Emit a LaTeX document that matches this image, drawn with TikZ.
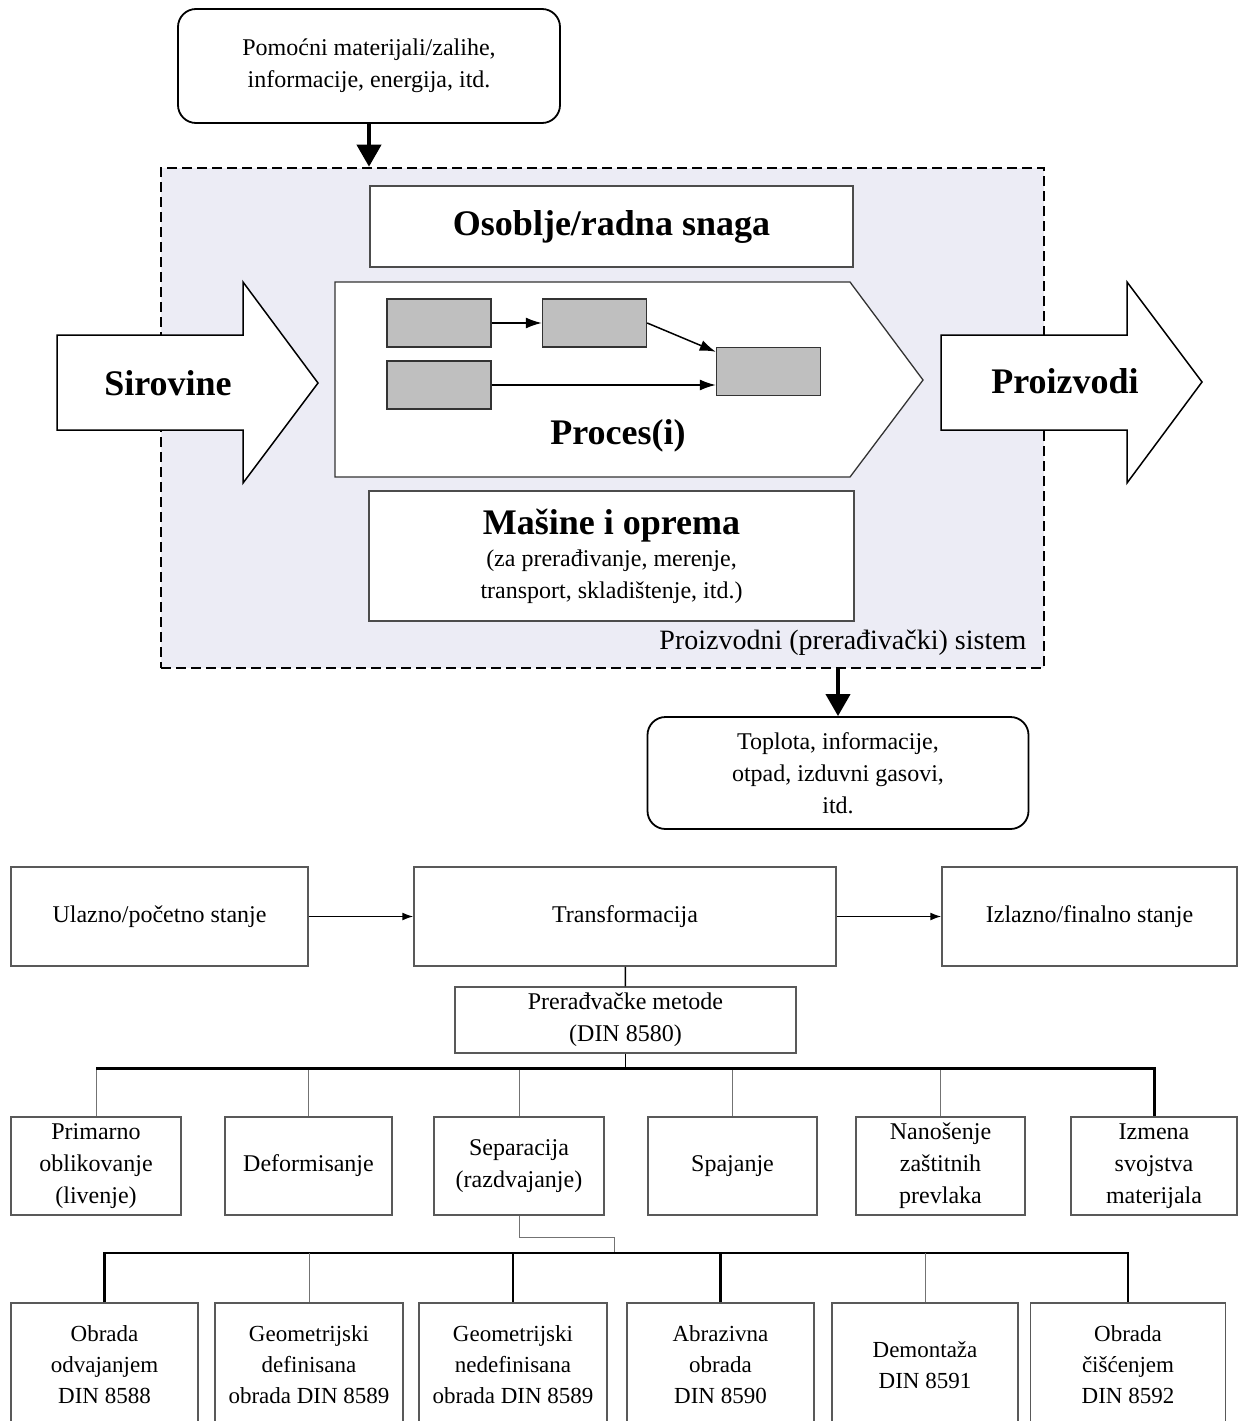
\documentclass[tikz,border=0pt]{standalone}
\usepackage{fontspec}
\setmainfont{Liberation Serif}
\usetikzlibrary{arrows.meta}
\definecolor{sysfill}{RGB}{236,236,245}
\definecolor{unitgray}{RGB}{191,191,191}

\begin{document}
\begin{tikzpicture}[x=1pt, y=-1pt,
        txt/.style={font=\fontsize{24}{32}\selectfont, align=center},
        big/.style={font=\fontsize{36}{40}\selectfont\bfseries, align=center},
        note/.style={draw, line width=1.8pt, rounded corners=18pt, fill=white, txt},
        res/.style={draw=black!70, line width=1.5pt, fill=white, align=center},
        unit/.style={draw=black!80, line width=1.4pt, fill=unitgray, minimum width=104, minimum height=48},
        blockarrow/.style={draw, line width=1.5pt, fill=white, line join=miter},
        cell/.style={draw=black!65, line width=1.5pt, fill=white, txt, inner sep=2pt},
        cellsm/.style={cell, font=\fontsize{23}{31}\selectfont},
        feed/.style={-{Triangle[length=22pt,width=24pt]}, line width=4pt},
        unitflow/.style={-{Latex[length=16pt,width=11pt]}, line width=1.5pt},
        flow/.style={-{Latex[length=11pt,width=8pt]}, line width=1.5pt},
        link/.style={line width=1.5pt},
        drop/.style={draw=black!55, line width=1pt},
        bus/.style={line width=3pt, line join=miter},
        bustwo/.style={line width=2.2pt, line join=miter}
      ]
      \useasboundingbox (0,0) rectangle (1238,1421);

      % Production system
      \node[draw, dashed, dash pattern=on 10pt off 5pt, line width=2.6pt, fill=sysfill,
            minimum width=883, minimum height=500] (sistem) at (602.5,418) {};
      \node[font=\fontsize{28}{32}\selectfont, anchor=east] (syslabel) at (1030,643) {Proizvodni (prerađivački) sistem};

      % Auxiliary input and output
      \node[note, minimum width=382, minimum height=114] (pomocni) at (369,66) {Pomoćni materijali/zalihe,\\informacije, energija, itd.};
      \node[note, minimum width=381, minimum height=112] (toplota) at (838,773) {Toplota, informacije,\\otpad, izduvni gasovi,\\itd.};
      \draw[feed] (pomocni.south) -- (pomocni.south |- sistem.north);
      \draw[feed] (toplota.north |- sistem.south) -- (toplota.north);

      % Resources
      \node[res, big, minimum width=483, minimum height=81] (osoblje) at (611.5,226.5) {Osoblje/radna snaga};
      \node[res, txt, minimum width=485, minimum height=130] (masine) at (611.5,556) {{\fontsize{36}{40}\selectfont\bfseries Mašine i oprema}\\(za prerađivanje, merenje,\\transport, skladištenje, itd.)};

      % Process
      \draw[draw=black!80, line width=1.3pt, fill=white] (335,282) -- (850,282) -- (923,380) -- (850,477) -- (335,477) -- cycle;
      \node[unit] (u1) at (439,323) {};
      \node[unit] (u2) at (594.5,323) {};
      \node[unit] (u3) at (439,385) {};
      \node[unit] (u4) at (768.5,371.5) {};
      \draw[unitflow] (u1) -- (u2);
      \draw[unitflow] (u2.east) -- ([yshift=-5pt]u4.north west);
      \draw[unitflow] (u3.east) -- (u4.west |- u3.east);
      \node[big] (proces) at (618,436) {Proces(i)};

      % Input and output
      \draw[blockarrow] (57,335) -- (243,335) -- (243,282) -- (318,383) -- (243,483) -- (243,430) -- (57,430) -- cycle;
      \node[big] (sirovine) at (168,383) {Sirovine};
      \draw[blockarrow] (941,335) -- (1127,335) -- (1127,282) -- (1202,382) -- (1127,483) -- (1127,430) -- (941,430) -- cycle;
      \node[big] (proizvodi) at (1065,381) {Proizvodi};

      % States
      \node[cell, minimum width=297, minimum height=99] (ulazno) at (159.5,916.5) {Ulazno/početno stanje};
      \node[cell, minimum width=422, minimum height=99] (transf) at (625,916.5) {Transformacija};
      \node[cell, minimum width=295, minimum height=99] (izlazno) at (1089.5,916.5) {Izlazno/finalno stanje};
      \draw[flow] (ulazno) -- (transf);
      \draw[flow] (transf) -- (izlazno);

      % Manufacturing methods
      \node[cell, minimum width=341, minimum height=66] (metode) at (625.5,1020) {Prerađvačke metode\\(DIN 8580)};
      \draw[link] (transf) -- (metode);
      \coordinate (busone) at (625.5,1068);
      \draw[link] (metode) -- (busone);

      \node[cell, minimum width=170, minimum height=98] (prim) at (96,1166) {Primarno\\oblikovanje\\(livenje)};
      \node[cell, minimum width=167, minimum height=98] (def) at (308.5,1166) {Deformisanje};
      \node[cell, minimum width=170, minimum height=98] (sep) at (519,1166) {Separacija\\(razdvajanje)};
      \node[cell, minimum width=169, minimum height=98] (spa) at (732.5,1166) {Spajanje};
      \node[cell, minimum width=169, minimum height=98] (nan) at (940.5,1166) {Nanošenje\\zaštitnih\\prevlaka};
      \node[cell, minimum width=166, minimum height=98] (izm) at (1154,1166) {Izmena\\svojstva\\materijala};

      \foreach \m in {prim,def,sep,spa,nan}
        \draw[drop] (\m.north |- busone) -- (\m.north);
      \draw[bus] (prim.north |- busone) -- (izm.north |- busone) -- (izm.north);

      % Separation methods
      \node[cellsm, minimum width=187, minimum height=124] (o1) at (104.5,1365) {Obrada\\odvajanjem\\DIN 8588};
      \node[cellsm, minimum width=188, minimum height=124] (o2) at (309,1365) {Geometrijski\\definisana\\obrada DIN 8589};
      \node[cellsm, minimum width=188, minimum height=124] (o3) at (513,1365) {Geometrijski\\nedefinisana\\obrada DIN 8589};
      \node[cellsm, minimum width=187, minimum height=124] (o4) at (720.5,1365) {Abrazivna\\obrada\\DIN 8590};
      \node[cellsm, minimum width=186, minimum height=124] (o5) at (925,1365) {Demontaža\\DIN 8591};
      \node[cellsm, minimum width=195, minimum height=124] (o6) at (1128,1365) {Obrada\\čišćenjem\\DIN 8592};

      \coordinate (bustwo) at (614,1253);
      \draw[drop] (sep.south) -- ++(0,22) -| (bustwo);
      \draw[bustwo] (o1.north) -- (o1.north |- bustwo) -- (o6.north |- bustwo) -- (o6.north);
      \draw[bustwo] (o3.north |- bustwo) -- (o3.north);
      \draw[bustwo] (o4.north |- bustwo) -- (o4.north);
      \draw[drop] (o2.north |- bustwo) -- (o2.north);
      \draw[drop] (o5.north |- bustwo) -- (o5.north);

    \end{tikzpicture}
\end{document}
